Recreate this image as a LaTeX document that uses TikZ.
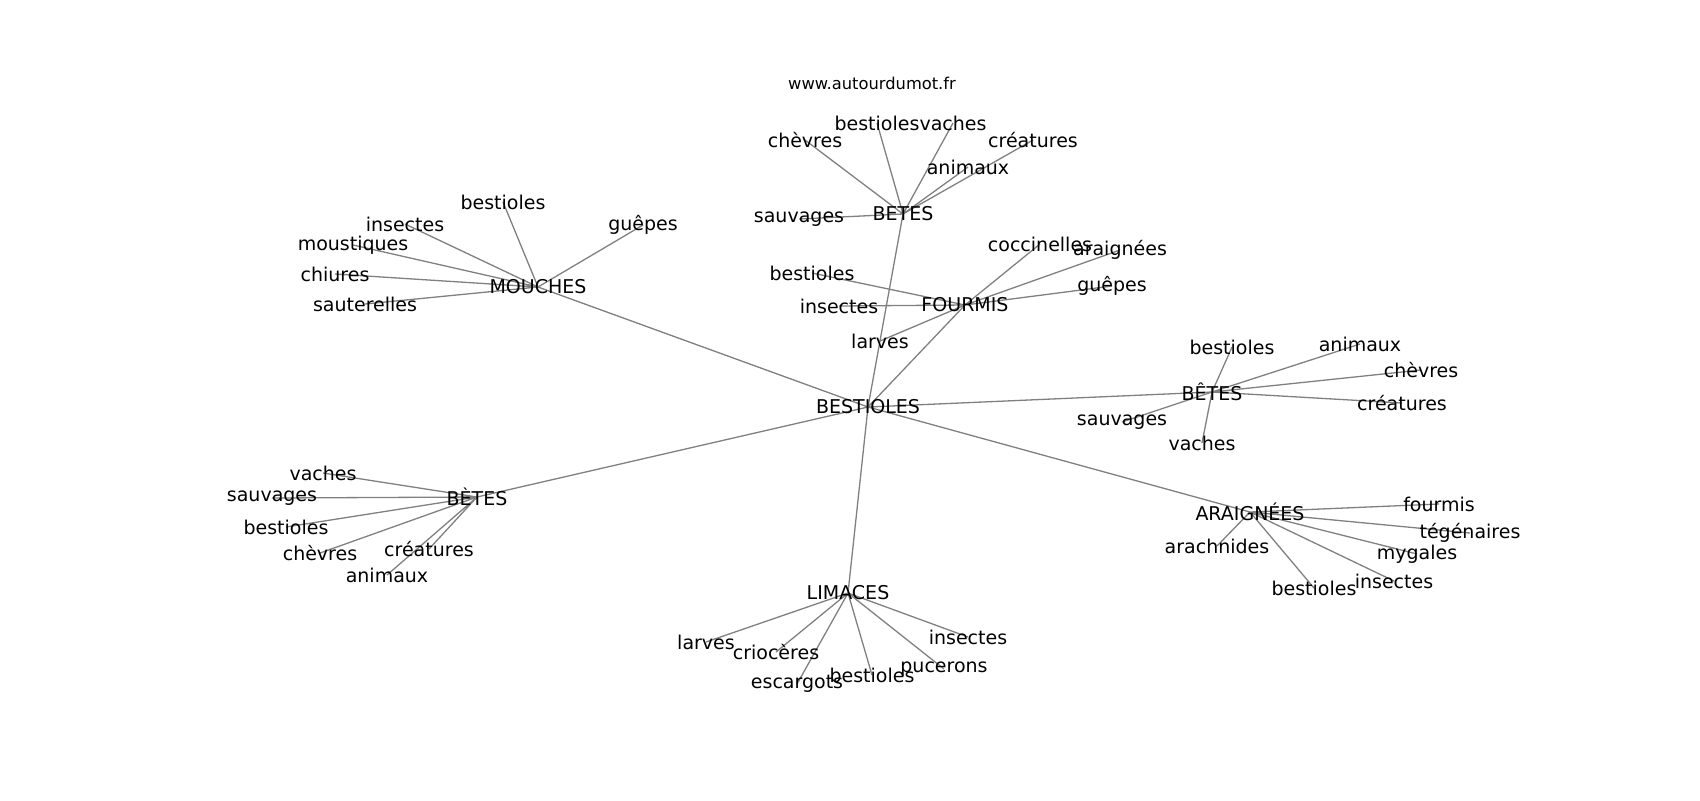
\documentclass[tikz,border=0pt]{standalone}
\usepackage{fontspec}
\setmainfont{DejaVu Sans}
\usepackage{tikz}
\usetikzlibrary{backgrounds}
\newcommand{\lblsize}{\fontsize{9.5}{11}\selectfont}
\newcommand{\ttlsize}{\fontsize{8.15}{10}\selectfont}
\tikzset{
  word/.style = {inner sep=0pt, outer sep=0pt, font=\lblsize, text=black},
  edge/.style = {draw=gray, line width=0.65pt}
}

\begin{document}
\begin{tikzpicture}[x=0.5pt, y=-0.5pt]
  \useasboundingbox (0,0) rectangle (1700,800);
  \node[inner sep=0pt, font=\ttlsize] (ttl) at (872,83) {www.autourdumot.fr};
  % centre
  \node[word] (b) at (868,407) {BESTIOLES};
  % top
  \node[word] (t) at (903,214) {BETES};
  \node[word] (t1) at (805,140) {chèvres};
  \node[word] (t2) at (877,123) {bestioles};
  \node[word] (t3) at (953,123) {vaches};
  \node[word] (t4) at (1033,140) {créatures};
  \node[word] (t5) at (968,167) {animaux};
  \node[word] (t6) at (799,219) {sauvages};
  % mouches
  \node[word] (m) at (538,287) {MOUCHES};
  \node[word] (m1) at (503,202) {bestioles};
  \node[word] (m2) at (643,225) {guêpes};
  \node[word] (m3) at (405,224) {insectes};
  \node[word] (m4) at (353,245) {moustiques};
  \node[word] (m5) at (335,274) {chiures};
  \node[word] (m6) at (365,304) {sauterelles};
  % fourmis
  \node[word] (f) at (965,305) {FOURMIS};
  \node[word] (f1) at (1040,244) {coccinelles};
  \node[word] (f2) at (1120,250) {araignées};
  \node[word] (f3) at (1112,286) {guêpes};
  \node[word] (f4) at (812,273) {bestioles};
  \node[word] (f5) at (839,306) {insectes};
  \node[word] (f6) at (880,341) {larves};
  % left
  \node[word] (g) at (477,497) {BÈTES};
  \node[word] (g1) at (323,473) {vaches};
  \node[word] (g2) at (272,498) {sauvages};
  \node[word] (g3) at (286,527) {bestioles};
  \node[word] (g4) at (320,553) {chèvres};
  \node[word] (g5) at (429,549) {créatures};
  \node[word] (g6) at (387,575) {animaux};
  % right
  \node[word] (r) at (1212,392) {BÊTES};
  \node[word] (r1) at (1232,347) {bestioles};
  \node[word] (r2) at (1360,344) {animaux};
  \node[word] (r3) at (1421,370) {chèvres};
  \node[word] (r4) at (1402,403) {créatures};
  \node[word] (r5) at (1122,422) {sauvages};
  \node[word] (r6) at (1202,443) {vaches};
  % araignees
  \node[word] (a) at (1250,512) {ARAIGNÉES};
  \node[word] (a1) at (1439,504) {fourmis};
  \node[word] (a2) at (1470,533) {tégénaires};
  \node[word] (a3) at (1417,554) {mygales};
  \node[word] (a4) at (1394,581) {insectes};
  \node[word] (a5) at (1314,588) {bestioles};
  \node[word] (a6) at (1217,546) {arachnides};
  % limaces
  \node[word] (l) at (848,593) {LIMACES};
  \node[word] (l1) at (706,642) {larves};
  \node[word] (l2) at (776,652) {criocères};
  \node[word] (l3) at (797,684) {escargots};
  \node[word] (l4) at (872,675) {bestioles};
  \node[word] (l5) at (944,669) {pucerons};
  \node[word] (l6) at (968,637) {insectes};

  \begin{pgfonlayer}{background}
    \draw[edge] (b.center) -- (t.center) (b.center) -- (m.center)
      (b.center) -- (f.center) (b.center) -- (g.center)
      (b.center) -- (r.center) (b.center) -- (a.center)
      (b.center) -- (l.center);
    \draw[edge] (t.center) -- (t1.center) (t.center) -- (t2.center)
      (t.center) -- (t3.center) (t.center) -- (t4.center)
      (t.center) -- (t5.center) (t.center) -- (t6.center);
    \draw[edge] (m.center) -- (m1.center) (m.center) -- (m2.center)
      (m.center) -- (m3.center) (m.center) -- (m4.center)
      (m.center) -- (m5.center) (m.center) -- (m6.center);
    \draw[edge] (f.center) -- (f1.center) (f.center) -- (f2.center)
      (f.center) -- (f3.center) (f.center) -- (f4.center)
      (f.center) -- (f5.center) (f.center) -- (f6.center);
    \draw[edge] (g.center) -- (g1.center) (g.center) -- (g2.center)
      (g.center) -- (g3.center) (g.center) -- (g4.center)
      (g.center) -- (g5.center) (g.center) -- (g6.center);
    \draw[edge] (r.center) -- (r1.center) (r.center) -- (r2.center)
      (r.center) -- (r3.center) (r.center) -- (r4.center)
      (r.center) -- (r5.center) (r.center) -- (r6.center);
    \draw[edge] (a.center) -- (a1.center) (a.center) -- (a2.center)
      (a.center) -- (a3.center) (a.center) -- (a4.center)
      (a.center) -- (a5.center) (a.center) -- (a6.center);
    \draw[edge] (l.center) -- (l1.center) (l.center) -- (l2.center)
      (l.center) -- (l3.center) (l.center) -- (l4.center)
      (l.center) -- (l5.center) (l.center) -- (l6.center);
  \end{pgfonlayer}
\end{tikzpicture}
\end{document}
